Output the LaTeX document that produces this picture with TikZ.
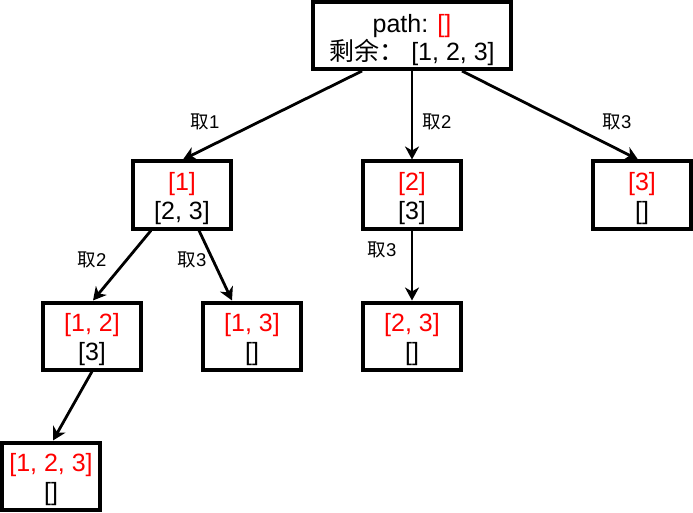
\documentclass[tikz,border=0pt]{standalone}
\usepackage{fontspec}
\setmainfont{Liberation Sans}
\newfontfamily\cjk{Noto Sans CJK SC}
\usetikzlibrary{arrows.meta}
\definecolor{pathred}{HTML}{FF0000}
\tikzset{
  box/.style={draw, line width=4pt, minimum width=98pt, minimum height=67pt,
    inner sep=0pt, align=center, font=\fontsize{25}{29}\selectfont},
  edge/.style={line width=2.8pt, -{Stealth[length=13pt,width=14pt,inset=4pt]}},
  lbl/.style={font=\fontsize{18.5}{20}\selectfont, inner sep=0pt}
}
\newcommand{\rd}[1]{\textcolor{pathred}{#1}}
\newcommand{\lift}[1]{\rule{0pt}{#1}}
\begin{document}
\begin{tikzpicture}[x=1pt,y=-1pt]
\useasboundingbox (0,0) rectangle (693,513);
\node[box, minimum width=198pt] (root) at (412,35.5) {\lift{28pt}path: \rd{[]}\\[-1pt]{\cjk 剩余：} [1, 2, 3]};
\node[box] (n1) at (182,195) {\lift{25pt}\rd{[1]}\\{}[2, 3]};
\node[box] (n2) at (412,195) {\lift{25pt}\rd{[2]}\\{}[3]};
\node[box] (n3) at (642,195) {\lift{25pt}\rd{[3]}\\{}[]};
\node[box] (n12) at (92,336) {\lift{25pt}\rd{[1, 2]}\\{}[3]};
\node[box] (n13) at (252,336) {\lift{25pt}\rd{[1, 3]}\\{}[]};
\node[box] (n23) at (412,336) {\lift{25pt}\rd{[2, 3]}\\{}[]};
\node[box] (n123) at (51,476) {\lift{25pt}\rd{[1, 2, 3]}\\{}[]};

\draw[edge] ([xshift=-50pt]root.south) -- ([xshift=1pt]n1.north);
\draw[edge] (root.south) -- (n2.north);
\draw[edge] ([xshift=50pt]root.south) -- ([xshift=-4pt]n3.north);
\draw[edge] ([xshift=-31pt]n1.south) -- ([xshift=1pt]n12.north);
\draw[edge] ([xshift=17pt]n1.south) -- ([xshift=-20pt]n13.north);
\draw[edge] (n12.south) -- ([xshift=2pt]n123.north);
\draw[edge] (n2.south) -- (n23.north);

\node[lbl] (l1) at (205,122) {{\cjk 取}1};
\node[lbl] (l2) at (437,122) {{\cjk 取}2};
\node[lbl] (l3) at (617,122) {{\cjk 取}3};
\node[lbl] (l4) at (92,260) {{\cjk 取}2};
\node[lbl] (l5) at (192,260) {{\cjk 取}3};
\node[lbl] (l6) at (382,250) {{\cjk 取}3};
\end{tikzpicture}
\end{document}
